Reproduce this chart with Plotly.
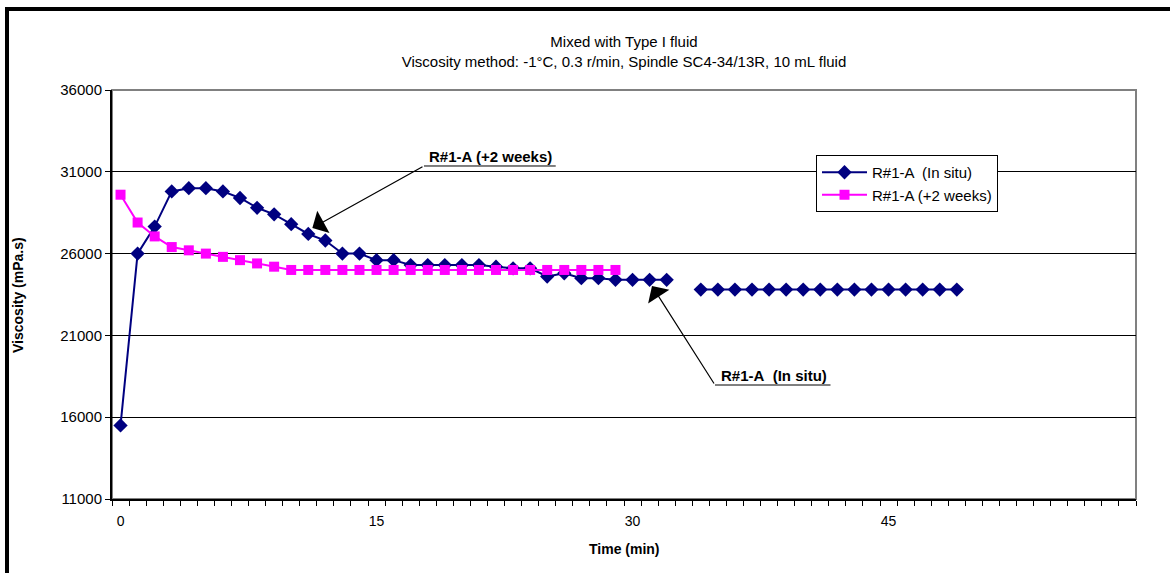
import plotly.graph_objects as go

# ---- data ----
time_in_situ = list(range(0, 50))
visc_in_situ = [15500, 26000, 27650, 29800, 30000, 30000, 29800, 29400, 28800, 28400,
                27800, 27200, 26800, 26000, 26000, 25600, 25600, 25300, 25300, 25300,
                25300, 25300, 25200, 25100, 25100, 24600, 24800, 24500, 24500, 24400,
                24400, 24400, 24400, None, 23800, 23800, 23800, 23800, 23800, 23800,
                23800, 23800, 23800, 23800, 23800, 23800, 23800, 23800, 23800, 23800]

time_2weeks = list(range(0, 30))
visc_2weeks = [29600, 27900, 27050, 26400, 26200, 26000, 25800, 25600, 25400, 25200,
               25000, 25000, 25000, 25000, 25000, 25000, 25000, 25000, 25000, 25000,
               25000, 25000, 25000, 25000, 25000, 25000, 25000, 25000, 25000, 25000]

x_categories = list(range(0, 60))
x_tick_labels = [0, 15, 30, 45]
y_ticks = [11000, 16000, 21000, 26000, 31000, 36000]

name_in_situ = "R#1-A  (In situ)"
name_2weeks = "R#1-A (+2 weeks)"
title_l1 = "Mixed with Type I fluid"
title_l2 = "Viscosity method: -1°C, 0.3 r/min, Spindle SC4-34/13R, 10 mL fluid"

FONT = "Liberation Sans, Arial, sans-serif"

fig = go.Figure()
fig.add_trace(go.Scatter(
    x=time_in_situ, y=visc_in_situ, name=name_in_situ, mode="lines+markers",
    line=dict(color="#000080", width=2),
    marker=dict(symbol="diamond", size=11, color="#000080"),
    connectgaps=False))
fig.add_trace(go.Scatter(
    x=time_2weeks, y=visc_2weeks, name=name_2weeks, mode="lines+markers",
    line=dict(color="#FF00FF", width=2),
    marker=dict(symbol="square", size=10, color="#FF00FF")))

boundaries = [c - 0.5 for c in x_categories] + [x_categories[-1] + 0.5]

fig.update_xaxes(
    range=[x_categories[0] - 0.5, x_categories[-1] + 0.5],
    tickvals=x_tick_labels, ticktext=[str(v) for v in x_tick_labels],
    ticks="outside", ticklen=5, tickcolor="rgba(0,0,0,0)",
    ticklabelstandoff=3,
    minor=dict(tickvals=boundaries, ticks="outside", ticklen=5, tickcolor="#000", tickwidth=1),
    showgrid=False, zeroline=False,
    showline=True, linecolor="#000", linewidth=2,
    tickfont=dict(family=FONT, size=14, color="#000"))
fig.update_yaxes(
    range=[y_ticks[0], y_ticks[-1]], tickvals=y_ticks,
    ticktext=[str(v) for v in y_ticks],
    ticks="outside", ticklen=5, tickcolor="#000", tickwidth=1,
    showgrid=True, gridcolor="#000", gridwidth=1, zeroline=False,
    showline=True, linecolor="#000", linewidth=2,
    tickfont=dict(family=FONT, size=15, color="#000"))

L, R, T, B = 112, 34, 90, 74
W, H = 1170, 573
pw, ph = W - L - R, H - T - B

def px(xp):  # pixel x -> paper
    return (xp - L) / pw

def py(yp):  # pixel y -> paper
    return (H - B - yp) / ph

shapes = [
    dict(type="rect", xref="paper", yref="paper", x0=0, x1=1, y0=0, y1=1,
         line=dict(color="#808080", width=2), layer="below"),
    dict(type="rect", xref="paper", yref="paper", x0=px(7), x1=px(1180),
         y0=py(585), y1=py(9), line=dict(color="#000", width=4)),
    dict(type="line", xref="x", yref="y", x0=17.78, x1=25.5, y0=31355, y1=31355,
         line=dict(color="#000", width=1)),
    dict(type="line", xref="x", yref="y", x0=34.83, x1=41.6, y0=17968, y1=17968,
         line=dict(color="#000", width=1)),
]

annotations = [
    dict(x=11.24, y=27565, ax=17.78, ay=31355, xref="x", yref="y", axref="x", ayref="y",
         text="", showarrow=True, arrowhead=1, arrowsize=3.5, arrowwidth=1.2, arrowcolor="#000"),
    dict(x=31.14, y=24020, ax=34.83, ay=17968, xref="x", yref="y", axref="x", ayref="y",
         text="", showarrow=True, arrowhead=1, arrowsize=3.5, arrowwidth=1.2, arrowcolor="#000"),
    dict(x=21.7, y=31905, xref="x", yref="y", text="<b>" + name_2weeks + "</b>",
         xanchor="center", yanchor="middle",
         showarrow=False, font=dict(family=FONT, size=15, color="#000")),
    dict(x=38.3, y=18537, xref="x", yref="y", text="<b>" + name_in_situ.replace("  ", "&nbsp; ") + "</b>",
         xanchor="center", yanchor="middle",
         showarrow=False, font=dict(family=FONT, size=15, color="#000")),
    dict(x=px(18), y=py(295), xref="paper", yref="paper", text="<b>Viscosity (mPa.s)</b>",
         xanchor="center", yanchor="middle",
         textangle=-90, showarrow=False, font=dict(family=FONT, size=14, color="#000")),
    dict(x=0.5, y=py(549), xref="paper", yref="paper", text="<b>Time (min)</b>",
         xanchor="center", yanchor="middle",
         showarrow=False, font=dict(family=FONT, size=14, color="#000")),
]

fig.update_layout(
    width=W, height=H,
    margin=dict(l=L, r=R, t=T, b=B),
    paper_bgcolor="#fff", plot_bgcolor="#fff",
    title=dict(text=title_l1 + "<br>" + title_l2, x=px(624), xref="paper",
               y=(H - 47) / H, yref="container", xanchor="center", yanchor="middle",
               font=dict(family=FONT, size=15, color="#000")),
    legend=dict(x=px(816), y=py(155), xanchor="left", yanchor="top",
                bgcolor="#fff", bordercolor="#000", borderwidth=1, itemwidth=45,
                font=dict(family=FONT, size=15, color="#000")),
    showlegend=True,
    shapes=shapes, annotations=annotations,
)

fig.write_html("out.html", config={"displayModeBar": False},
               post_script="document.body.style.margin='0';document.body.style.overflow='hidden';")
